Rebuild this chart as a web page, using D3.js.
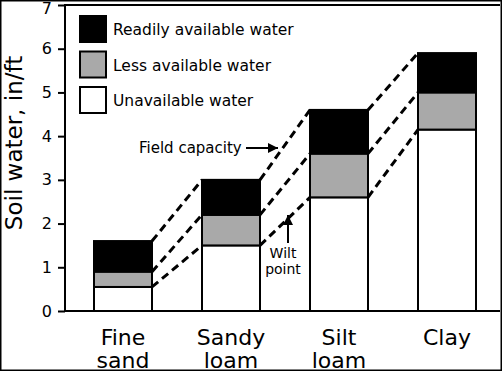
<!DOCTYPE html>
<html>
<head>
<meta charset="utf-8">
<script src="https://cdn.jsdelivr.net/npm/d3@7"></script>
<style>
  body { margin: 0; background: #fff; }
  svg { display: block; font-family: "DejaVu Sans", Verdana, sans-serif; }
</style>
</head>
<body>
<svg id="chart"></svg>
<script>
// ---------------------------------------------------------------- //
// Data

var soils = ['Fine sand', 'Sandy loam', 'Silt loam', 'Clay'];
var unavailable = [0.55, 1.5, 2.6, 4.15];
var lessAvailable = [0.35, 0.7, 1.0, 0.85];
var readilyAvailable = [0.7, 0.8, 1.0, 0.9];
var yTicks = [0, 1, 2, 3, 4, 5, 6, 7];
var legendLabels = ['Readily available water', 'Less available water', 'Unavailable water'];

// ---------------------------------------------------------------- //
// Setup

var width = 502, height = 371;
var plotLeft = 65, plotRight = 500, plotTop = 5, plotBottom = 311;

var svg = d3.select('#chart').attr('width', width).attr('height', height);

var x = d3.scaleBand().domain(soils).range([44, 526]).padding(0.463);
var y = d3.scaleLinear().domain([0, 7]).range([plotBottom, plotTop]);

var keys = ['unavailable', 'less', 'readily'];
var colors = { unavailable: '#ffffff', less: '#a9a9a9', readily: '#000000' };

var rows = soils.map((s, i) => ({ soil: s, unavailable: unavailable[i], less: lessAvailable[i], readily: readilyAvailable[i] }));
var series = d3.stack().keys(keys)(rows);

// frame
svg.append('rect').attr('x', 0.75).attr('y', 0.75).attr('width', width - 1.5).attr('height', height - 1.5)
  .attr('fill', 'none').attr('stroke', '#000').attr('stroke-width', 1.5);

svg.append('line').attr('x1', plotLeft).attr('x2', plotRight).attr('y1', plotTop).attr('y2', plotTop)
  .attr('stroke', '#000').attr('stroke-width', 2);

// y axis
var yAxis = svg.append('g').attr('transform', 'translate(' + plotLeft + ',0)')
  .call(d3.axisLeft(y).tickValues(yTicks).tickFormat(d3.format('d')).tickSize(7).tickPadding(6).tickSizeOuter(0));
yAxis.select('.domain').attr('stroke-width', 2).attr('d', 'M0,' + (plotBottom + 1) + 'V' + (plotTop - 1));
yAxis.selectAll('.tick line').attr('stroke-width', 2);
yAxis.selectAll('.tick text').attr('font-size', 16).attr('font-family', '"DejaVu Sans", sans-serif').attr('fill', '#000');
yAxis.selectAll('.tick text').filter((d) => d === 7).attr('dy', '0.52em');

// x axis line
svg.append('line').attr('x1', plotLeft).attr('x2', plotRight).attr('y1', plotBottom).attr('y2', plotBottom)
  .attr('stroke', '#000').attr('stroke-width', 2);

// y title
svg.append('text').attr('transform', 'translate(22,' + 143 + ') rotate(-90)')
  .attr('text-anchor', 'middle').attr('font-size', 23).text('Soil water, in/ft');

// ---------------------------------------------------------------- //
// Dashed connectors

var line_gen = d3.line().x((d) => d.x).y((d) => d.y);
series.forEach((s) => {
  for (var i = 0; i < soils.length - 1; i++) {
    var pts = [
      { x: x(soils[i]) + x.bandwidth(), y: y(s[i][1]) },
      { x: x(soils[i + 1]), y: y(s[i + 1][1]) }
    ];
    svg.append('path').attr('d', line_gen(pts)).attr('fill', 'none')
      .attr('stroke', '#000').attr('stroke-width', 3).attr('stroke-dasharray', '8,5');
  }
});

// ---------------------------------------------------------------- //
// Bars

series.forEach((s) => {
  svg.append('g').selectAll('rect').data(s).join('rect')
    .attr('x', (d) => x(d.data.soil))
    .attr('y', (d) => y(d[1]))
    .attr('width', x.bandwidth())
    .attr('height', (d) => y(d[0]) - y(d[1]))
    .attr('fill', colors[s.key])
    .attr('stroke', '#000').attr('stroke-width', 2);
});

// category labels
soils.forEach((s) => {
  var words = s.split(' ');
  var t = svg.append('text').attr('text-anchor', 'middle').attr('font-size', 22);
  words.forEach((w, j) => {
    t.append('tspan').attr('x', x(s) + x.bandwidth() / 2).attr('y', 345 + j * 23).text(w);
  });
});

// ---------------------------------------------------------------- //
// Legend

var legendKeys = ['readily', 'less', 'unavailable'];
legendKeys.forEach((k, i) => {
  var yy = 16 + i * 35.5;
  svg.append('rect').attr('x', 80).attr('y', yy).attr('width', 26).attr('height', 26)
    .attr('fill', colors[k]).attr('stroke', '#000').attr('stroke-width', 2);
  svg.append('text').attr('x', 113).attr('y', yy + 19).attr('font-size', 15.5).text(legendLabels[i]);
});

// ---------------------------------------------------------------- //
// Annotations

svg.append('defs').append('marker').attr('id', 'arrow').attr('viewBox', '0 0 10 10')
  .attr('refX', 10).attr('refY', 5).attr('markerWidth', 5).attr('markerHeight', 5)
  .attr('markerUnits', 'strokeWidth').attr('orient', 'auto')
  .append('path').attr('d', 'M0,0L10,5L0,10z').attr('fill', '#000');

svg.append('text').attr('x', 139).attr('y', 153).attr('font-size', 15).text('Field capacity');
svg.append('line').attr('x1', 246).attr('x2', 278).attr('y1', 148).attr('y2', 148)
  .attr('stroke', '#000').attr('stroke-width', 2).attr('marker-end', 'url(#arrow)');

svg.append('line').attr('x1', 288).attr('x2', 288).attr('y1', 243).attr('y2', 215)
  .attr('stroke', '#000').attr('stroke-width', 2).attr('marker-end', 'url(#arrow)');
var wt = svg.append('text').attr('text-anchor', 'middle').attr('font-size', 14);
wt.append('tspan').attr('x', 283).attr('y', 258).text('Wilt');
wt.append('tspan').attr('x', 283).attr('y', 274).text('point');
</script>
</body>
</html>
